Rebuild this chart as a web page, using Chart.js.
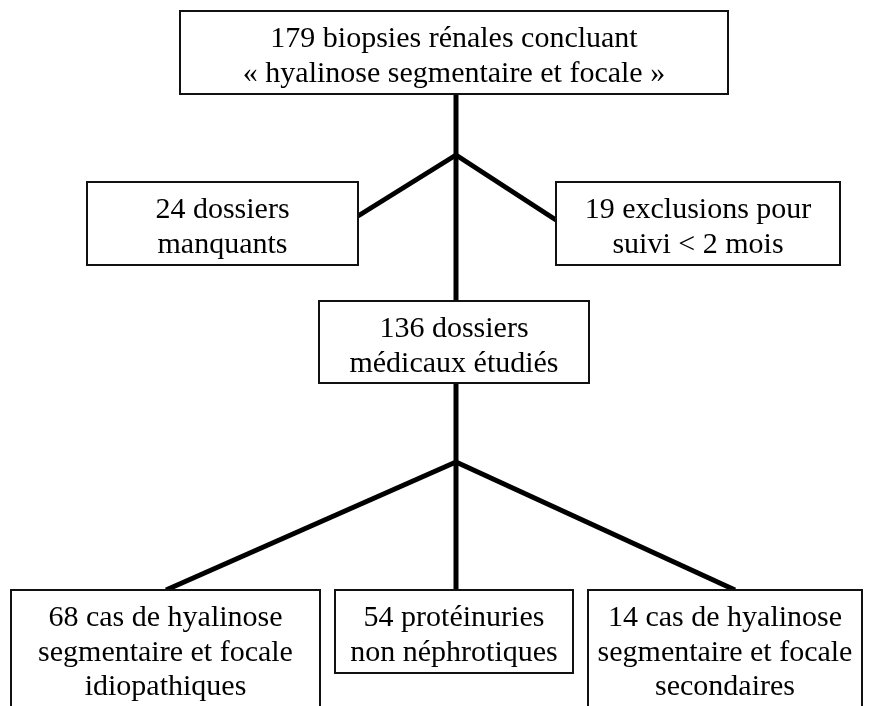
<!DOCTYPE html>
<html>
<head>
<meta charset="utf-8">
<script src="https://cdn.jsdelivr.net/npm/chart.js@4/dist/chart.umd.min.js"></script>
<style>
  html, body { margin: 0; padding: 0; background: #fff; }
  canvas { display: block; }
</style>
</head>
<body>
<canvas id="flowChart" width="872" height="706"></canvas>
<script>
// Flowchart nodes (text)
const nodeLabels = [
    ['179 biopsies rénales concluant', '« hyalinose segmentaire et focale »'],
    ['24 dossiers', 'manquants'],
    ['19 exclusions pour', 'suivi < 2 mois'],
    ['136 dossiers', 'médicaux étudiés'],
    ['68 cas de hyalinose', 'segmentaire et focale', 'idiopathiques'],
    ['54 protéinuries', 'non néphrotiques'],
    ['14 cas de hyalinose', 'segmentaire et focale', 'secondaires']
];

// Box extents in layout units [x1, y1, x2, y2]
const nodeBoxes = [
    [180, 11, 728, 94],
    [87, 182, 358, 265],
    [556, 182, 840, 265],
    [319, 301, 589, 383],
    [11, 590, 320, 730],
    [335, 590, 573, 673],
    [588, 590, 862, 730]
];

// Connector paths, each a list of [x, y] points
const connectors = [
    [[456, 94], [456, 301]],
    [[456, 155], [358, 216]],
    [[456, 155], [556, 220]],
    [[456, 383], [456, 590]],
    [[456, 462], [166, 590]],
    [[456, 462], [735, 590]]
];

const boxPlugin = {
    id: 'boxes',
    afterDatasetsDraw(chart) {
        const ctx = chart.ctx;
        const xs = chart.scales.x;
        const ys = chart.scales.y;
        ctx.save();
        nodeBoxes.forEach((b, i) => {
            const x1 = xs.getPixelForValue(b[0]);
            const x2 = xs.getPixelForValue(b[2]);
            const y1 = ys.getPixelForValue(b[1]);
            const y2 = ys.getPixelForValue(b[3]);
            ctx.fillStyle = '#fff';
            ctx.fillRect(x1, y1, x2 - x1, y2 - y1);
            ctx.strokeStyle = '#111';
            ctx.lineWidth = 2;
            ctx.strokeRect(x1, y1, x2 - x1, y2 - y1);

            const lines = nodeLabels[i];
            const lineH = 34.5;
            const cx = (x1 + x2) / 2;
            const top = y1 + 36;
            ctx.fillStyle = '#000';
            ctx.font = '30px "Liberation Serif", "Times New Roman", serif';
            ctx.textAlign = 'center';
            ctx.textBaseline = 'alphabetic';
            lines.forEach((t, j) => {
                ctx.fillText(t, cx, top + j * lineH);
            });
        });
        ctx.restore();
    }
};

const ctx = document.getElementById('flowChart').getContext('2d');
new Chart(ctx, {
    type: 'scatter',
    data: {
        datasets: connectors.map(path => ({
            data: path.map(p => ({ x: p[0], y: p[1] })),
            showLine: true,
            borderColor: '#000',
            borderWidth: 5,
            pointRadius: 0,
            borderCapStyle: 'butt'
        }))
    },
    options: {
        responsive: false,
        animation: false,
        layout: { padding: 0 },
        plugins: {
            legend: { display: false },
            tooltip: { enabled: false }
        },
        scales: {
            x: { type: 'linear', min: 0, max: 872, display: false },
            y: { type: 'linear', min: 0, max: 706, reverse: true, display: false }
        }
    },
    plugins: [boxPlugin]
});
</script>
</body>
</html>
